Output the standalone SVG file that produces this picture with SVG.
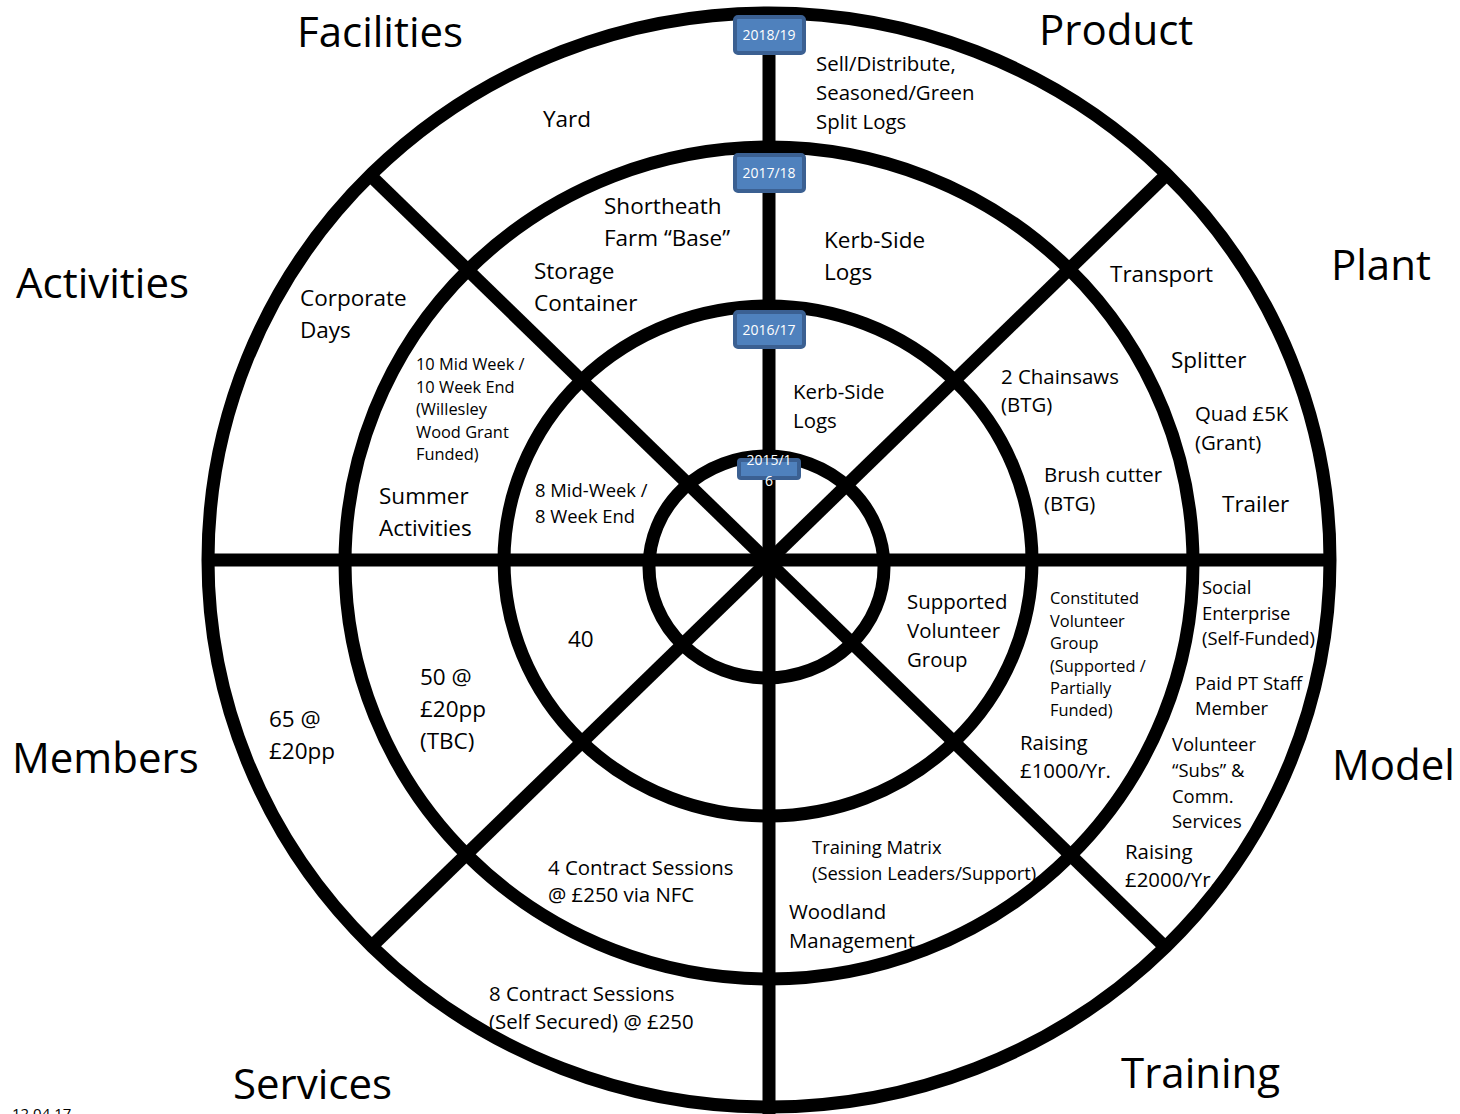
<svg xmlns="http://www.w3.org/2000/svg" width="1460" height="1114" viewBox="0 0 1460 1114">
<style>
.ring{fill:none;stroke:#000;stroke-width:13}
.spoke{stroke:#000;stroke-width:13;fill:none}
.box{fill:#4f81bd;stroke:#3b6092;stroke-width:4}
text{font-family:"Open Sans","Liberation Sans",sans-serif;fill:#000}
.bt{font-size:14px;fill:#fff;text-anchor:middle}
.big{font-size:42px}
.m{font-size:22.5px}
.s{font-size:20.4px}
.xs{font-size:18.4px}
.t{font-size:16.4px}
</style>
<rect width="1460" height="1114" fill="#fff"/>
<g id="connectors">
<ellipse class="ring" cx="769" cy="560" rx="561" ry="547"/>
<ellipse class="ring" cx="769" cy="563" rx="424" ry="416"/>
<ellipse class="ring" cx="768" cy="561" rx="264" ry="255"/>
<ellipse class="ring" cx="766.5" cy="567" rx="117.5" ry="111"/>
<line class="spoke" x1="769" y1="13" x2="769" y2="1114"/>
<line class="spoke" x1="207" y1="560" x2="1331" y2="560"/>
<line class="spoke" x1="373" y1="178" x2="1163" y2="945"/>
<line class="spoke" x1="1163" y1="178" x2="373" y2="945"/>
</g>
<g id="node-2018-19"><rect class="box" x="735" y="17" width="69" height="36" rx="3"/><text class="bt" x="769" y="40">2018/19</text></g>
<g id="node-2017-18"><rect class="box" x="735" y="155" width="69" height="36" rx="3"/><text class="bt" x="769" y="178">2017/18</text></g>
<g id="node-2016-17"><rect class="box" x="735" y="312" width="69" height="35" rx="3"/><text class="bt" x="769" y="335">2016/17</text></g>
<g id="node-2015-16"><rect class="box" x="739" y="460" width="60" height="18" rx="2"/><text class="bt" x="769" y="465">2015/1</text><text class="bt" x="769" y="486">6</text></g>
<g id="labels-headings">
<text class="big" x="297" y="47">Facilities</text>
<text class="big" x="1039" y="45">Product</text>
<text class="big" x="16" y="298">Activities</text>
<text class="big" x="1331" y="280">Plant</text>
<text class="big" x="12" y="773">Members</text>
<text class="big" x="1332" y="780">Model</text>
<text class="big" x="233" y="1099">Services</text>
<text class="big" x="1121" y="1088">Training</text>
<text x="12" y="1119" style="font-size:15px">12.04.17</text>
</g>
<g id="labels-cells">
<text class="m" x="543" y="127">Yard</text>
<text class="s" x="816" y="71">Sell/Distribute,</text>
<text class="s" x="816" y="100">Seasoned/Green</text>
<text class="s" x="816" y="129">Split Logs</text>
<text class="m" x="604" y="214">Shortheath</text>
<text class="m" x="604" y="246">Farm “Base”</text>
<text class="m" x="534" y="279">Storage</text>
<text class="m" x="534" y="311">Container</text>
<text class="m" x="824" y="248">Kerb-Side</text>
<text class="m" x="824" y="280">Logs</text>
<text class="m" x="300" y="306">Corporate</text>
<text class="m" x="300" y="338">Days</text>
<text class="m" x="1110" y="282">Transport</text>
<text class="m" x="1171" y="368">Splitter</text>
<text class="s" x="1195" y="421">Quad £5K</text>
<text class="s" x="1195" y="450">(Grant)</text>
<text class="m" x="1222" y="512">Trailer</text>
<text class="s" x="1001" y="384">2 Chainsaws</text>
<text class="s" x="1001" y="412">(BTG)</text>
<text class="s" x="1044" y="482">Brush cutter</text>
<text class="s" x="1044" y="511">(BTG)</text>
<text class="s" x="793" y="399">Kerb-Side</text>
<text class="s" x="793" y="428">Logs</text>
<text class="t" x="416" y="370">10 Mid Week /</text>
<text class="t" x="416" y="393">10 Week End</text>
<text class="t" x="416" y="415">(Willesley</text>
<text class="t" x="416" y="438">Wood Grant</text>
<text class="t" x="416" y="460">Funded)</text>
<text class="m" x="379" y="504">Summer</text>
<text class="m" x="379" y="536">Activities</text>
<text class="xs" x="535" y="497">8 Mid-Week /</text>
<text class="xs" x="535" y="523">8 Week End</text>
<text class="m" x="568" y="647">40</text>
<text class="m" x="420" y="685">50 @</text>
<text class="m" x="420" y="717">£20pp</text>
<text class="m" x="420" y="749">(TBC)</text>
<text class="m" x="269" y="727">65 @</text>
<text class="m" x="269" y="759">£20pp</text>
<text class="s" x="907" y="609">Supported</text>
<text class="s" x="907" y="638">Volunteer</text>
<text class="s" x="907" y="667">Group</text>
<text class="t" x="1050" y="604">Constituted</text>
<text class="t" x="1050" y="627">Volunteer</text>
<text class="t" x="1050" y="649">Group</text>
<text class="t" x="1050" y="672">(Supported /</text>
<text class="t" x="1050" y="694">Partially</text>
<text class="t" x="1050" y="716">Funded)</text>
<text class="s" x="1020" y="750">Raising</text>
<text class="s" x="1020" y="778">£1000/Yr.</text>
<text class="xs" x="1202" y="594">Social</text>
<text class="xs" x="1202" y="620">Enterprise</text>
<text class="xs" x="1202" y="645">(Self-Funded)</text>
<text class="xs" x="1195" y="690">Paid PT Staff</text>
<text class="xs" x="1195" y="715">Member</text>
<text class="xs" x="1172" y="751">Volunteer</text>
<text class="xs" x="1172" y="777">“Subs” &amp;</text>
<text class="xs" x="1172" y="803">Comm.</text>
<text class="xs" x="1172" y="828">Services</text>
<text class="s" x="1125" y="859">Raising</text>
<text class="s" x="1125" y="887">£2000/Yr.</text>
<text class="xs" x="812" y="854">Training Matrix</text>
<text class="xs" x="812" y="880">(Session Leaders/Support)</text>
<text class="s" x="789" y="919">Woodland</text>
<text class="s" x="789" y="948">Management</text>
<text class="s" x="548" y="875">4 Contract Sessions</text>
<text class="s" x="548" y="902">@ £250 via NFC</text>
<text class="s" x="489" y="1001">8 Contract Sessions</text>
<text class="s" x="489" y="1029">(Self Secured) @ £250</text>
</g>
</svg>
